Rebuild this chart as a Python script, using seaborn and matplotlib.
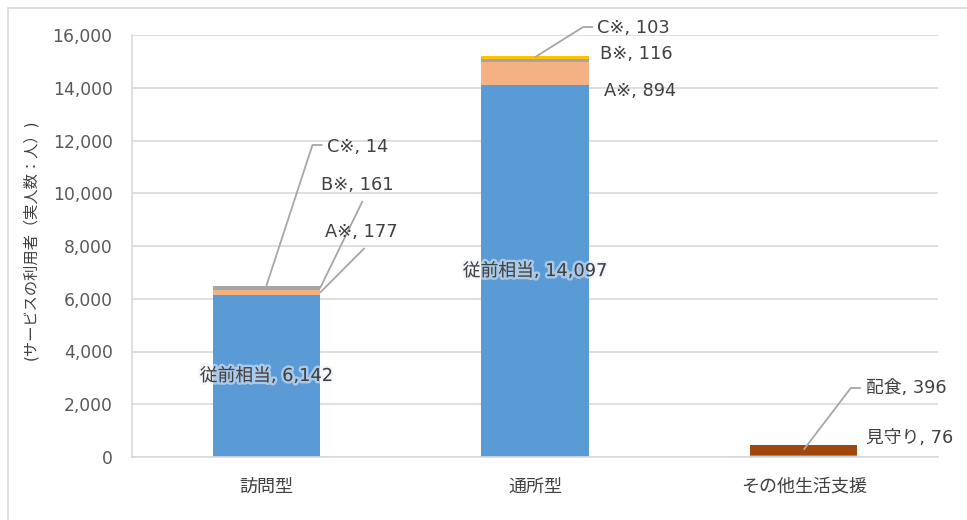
import matplotlib
matplotlib.use("Agg")
import matplotlib.pyplot as plt
from matplotlib.patches import Rectangle
from matplotlib.ticker import FuncFormatter
import matplotlib.patheffects as pe
import numpy as np
import pandas as pd
import seaborn as sns

# ---- data -------------------------------------------------------------
categories = ["訪問型", "通所型", "その他生活支援"]

base_values = [6142, 14097, 76]          # 従前相当 / 見守り
a_values = [177, 894, 0]                 # A※
b_values = [161, 116, 0]                 # B※
c_values = [14, 103, 0]                  # C※
meal_values = [0, 0, 396]                # 配食

base_names = ["従前相当", "従前相当", "見守り"]

layers = [
    ("base", base_values, "#5B9BD5"),
    ("A※", a_values, "#F4B183"),
    ("B※", b_values, "#A5A5A5"),
    ("C※", c_values, "#FFC000"),
    ("配食", meal_values, "#9E480E"),
]

y_ticks = [0, 2000, 4000, 6000, 8000, 10000, 12000, 14000, 16000]
y_label = "(サービスの利用者（実人数：人）)"

# ---- style ------------------------------------------------------------
sns.set_theme(style="white")
plt.rcParams["font.family"] = ["DejaVu Sans", "Noto Sans CJK JP"]

W, H, DPI = 967, 520, 100
fig = plt.figure(figsize=(W / DPI, H / DPI), dpi=DPI)
ax = fig.add_axes([132 / W, 1 - 457 / H, (938 - 132) / W, (457 - 35) / H])

BAR_W = 0.4
TEXT = "#404040"
LEAD = "#A6A6A6"
FS = 12.8

# ---- stacked bars -----------------------------------------------------
bottoms = np.zeros(len(categories))
segments = {}
for name, vals, color in layers:
    df = pd.DataFrame({"cat": categories, "val": vals})
    sns.barplot(data=df, x="cat", y="val", color=color, width=BAR_W,
                bottom=bottoms.copy(), ax=ax, saturation=1, linewidth=0,
                order=categories)
    segments[name] = (bottoms.copy(), np.array(vals, dtype=float))
    bottoms = bottoms + np.array(vals, dtype=float)

ax.set_xlim(-0.5, 2.5)
ax.set_ylim(0, 16000)
ax.set_yticks(y_ticks)
ax.yaxis.set_major_formatter(FuncFormatter(lambda v, p: f"{int(v):,}"))
ax.grid(axis="y", color="#D9D9D9", linewidth=1.2)
ax.set_axisbelow(True)
for s in ["top", "right"]:
    ax.spines[s].set_visible(False)
for s in ["left", "bottom"]:
    ax.spines[s].set_color("#D9D9D9")
    ax.spines[s].set_linewidth(1.2)
ax.tick_params(axis="y", length=0, pad=14, labelsize=12.3, labelcolor="#595959")
ax.tick_params(axis="x", length=0, pad=15, labelsize=13, labelcolor="#404040")
ax.set_xlabel("")
ax.set_ylabel("")
fig.text(30 / W, 1 - 240 / H, y_label, rotation=90, ha="center", va="center",
         fontsize=11, color=TEXT)

glow = [pe.withStroke(linewidth=3.5, foreground="#E8F0FA", alpha=0.55)]


def mid(name, i):
    b, v = segments[name]
    return b[i] + v[i] / 2


def label(x, y, text, **kw):
    ax.text(x, y, text, fontsize=FS, color=TEXT, va="center", clip_on=False, **kw)


def leader(points):
    xs, ys = zip(*points)
    ax.plot(xs, ys, color=LEAD, linewidth=1.3, clip_on=False, solid_capstyle="butt")


# pixel helpers for label placement
def px_x(px, i):
    return i + (px - (267 + 268 * i)) / 268


def px_y(py):
    return (457 - py) * 16000 / 422


# 訪問型
i = 0
label(i, mid("base", i), f"{base_names[i]}, {base_values[i]:,}", ha="center",
      path_effects=glow)
label(px_x(326, i), px_y(232), f"A※, {a_values[i]:,}", ha="left")
leader([(px_x(365, i), px_y(248)), (i + BAR_W / 2, mid("A※", i))])
label(px_x(322, i), px_y(185), f"B※, {b_values[i]:,}", ha="left")
leader([(px_x(363, i), px_y(201)), (i + BAR_W / 2, mid("B※", i))])
label(px_x(328, i), px_y(147), f"C※, {c_values[i]:,}", ha="left")
leader([(px_x(323, i), px_y(145)), (px_x(313, i), px_y(145)), (i, mid("C※", i))])

# 通所型
i = 1
label(i, mid("base", i), f"{base_names[i]}, {base_values[i]:,}", ha="center",
      path_effects=glow)
label(px_x(604, i), px_y(91), f"A※, {a_values[i]:,}", ha="left")
label(px_x(600, i), px_y(54), f"B※, {b_values[i]:,}", ha="left")
label(px_x(597, i), px_y(28), f"C※, {c_values[i]:,}", ha="left")
leader([(px_x(593, i), px_y(27)), (px_x(583, i), px_y(27)), (i, mid("C※", i))])

# その他生活支援
i = 2
label(px_x(865, i), px_y(388), f"配食, {meal_values[i]:,}", ha="left")
leader([(px_x(860, i), px_y(388)), (px_x(850, i), px_y(388)), (i, mid("配食", i))])
label(px_x(865, i), px_y(438), f"{base_names[i]}, {base_values[i]:,}", ha="left")

# chart-area frame (top and left edges)
fig.patches.append(Rectangle((8 / W, -0.1), 1.2, 1 - 8 / H + 0.1,
                             transform=fig.transFigure, fill=False,
                             edgecolor="#D9D9D9", linewidth=1.2))

fig.savefig("out.png", dpi=DPI, facecolor="white")
